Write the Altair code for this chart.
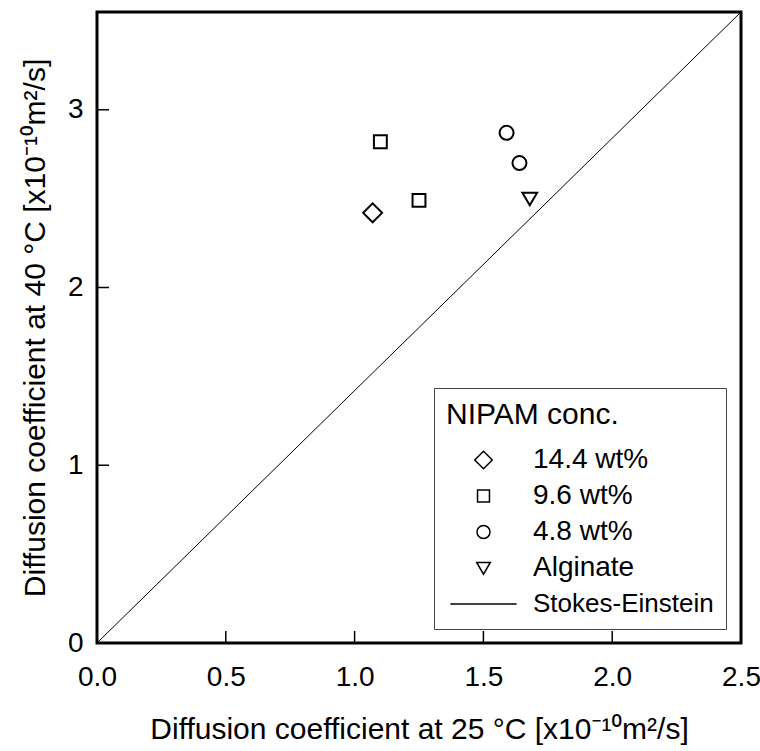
import altair as alt
import pandas as pd

# ---- data ----
series = ["14.4 wt%", "9.6 wt%", "9.6 wt%", "4.8 wt%", "4.8 wt%", "Alginate"]
d25 = [1.07, 1.10, 1.25, 1.59, 1.64, 1.68]
d40 = [2.42, 2.82, 2.49, 2.87, 2.70, 2.50]

se_x = [0.0, 2.5]
se_y = [0.0, 3.55]

x_ticks = [0.5, 1.0, 1.5, 2.0]
y_ticks = [1, 2, 3]
x_labels = [0.0, 0.5, 1.0, 1.5, 2.0, 2.5]
y_labels = [0, 1, 2, 3]
x_domain = [0, 2.5]
y_domain = [0, 3.55]

legend_order = ["14.4 wt%", "9.6 wt%", "4.8 wt%", "Alginate", "Stokes-Einstein"]
shape_paths = [
    "M0,-1.35L1.35,0L0,1.35L-1.35,0Z",
    "M-0.92,-0.92L0.92,-0.92L0.92,0.92L-0.92,0.92Z",
    "circle",
    "M-1.05,-0.85L1.05,-0.85L0,0.95Z",
    "M-5.1,0L5.1,0",
]

FONT = "Liberation Sans, Noto Sans, Arial, sans-serif"

pts = pd.DataFrame({"series": series, "x": d25, "y": d40})
se = pd.DataFrame({"x": se_x, "y": se_y})
xt = pd.DataFrame({"x": x_ticks})
yt = pd.DataFrame({"y": y_ticks})

xs = alt.Scale(domain=x_domain, nice=False, zero=False)
ys = alt.Scale(domain=y_domain, nice=False, zero=False)

xaxis = alt.Axis(
    values=x_labels, format=".1f", labelFontSize=28, labelPadding=20,
    labelColor="black", labelFont=FONT, labelFlush=False,
    ticks=False, domain=False, grid=False,
    title="Diffusion coefficient at 25 °C [x10⁻¹⁰m²/s]",
    titleFontSize=30, titleFontWeight="normal", titleFont=FONT,
    titleColor="black", titlePadding=23,
)
yaxis = alt.Axis(
    values=y_labels, format="d", labelFontSize=28, labelPadding=14,
    labelColor="black", labelFont=FONT, labelFlush=False,
    ticks=False, domain=False, grid=False,
    title="Diffusion coefficient at 40 °C [x10⁻¹⁰m²/s]",
    titleFontSize=30, titleFontWeight="normal", titleFont=FONT,
    titleColor="black", titlePadding=17,
)

leg = alt.Legend(
    title="NIPAM conc.", orient="none", legendX=337, legendY=376,
    padding=12, strokeColor="#444444", fillColor="white",
    titleFontSize=30, titleFontWeight="normal", titleFont=FONT,
    titleColor="black", titlePadding=16,
    labelFontSize={"expr": "datum.label == 'Stokes-Einstein' ? 26 : 28"},
    labelFont=FONT, labelColor="black", labelLimit=400,
    symbolSize=169, symbolStrokeWidth=1.5, symbolStrokeColor="black",
    symbolFillColor="transparent", symbolOffset=23.5, labelOffset=35.5,
    rowPadding=8,
)

line = alt.Chart(se).mark_line(color="black", strokeWidth=1).encode(
    x=alt.X("x:Q", scale=xs, axis=xaxis),
    y=alt.Y("y:Q", scale=ys, axis=yaxis),
)

xtick = alt.Chart(xt).mark_rule(color="black", strokeWidth=1.5).encode(
    x=alt.X("x:Q", scale=xs, axis=xaxis),
    y=alt.value(631), y2=alt.value(619),
)

ytick = alt.Chart(yt).mark_rule(color="black", strokeWidth=1.5).encode(
    y=alt.Y("y:Q", scale=ys, axis=yaxis),
    x=alt.value(0), x2=alt.value(12),
)

points = alt.Chart(pts).mark_point(
    filled=False, color="black", strokeWidth=2, size=196, opacity=1
).encode(
    x=alt.X("x:Q", scale=xs, axis=xaxis),
    y=alt.Y("y:Q", scale=ys, axis=yaxis),
    shape=alt.Shape("series:N", scale=alt.Scale(domain=legend_order, range=shape_paths), legend=leg),
)

chart = alt.layer(line, xtick, ytick, points).properties(
    width=644, height=631,
    autosize=alt.AutoSizeParams(type="none"),
    padding={"left": 97, "top": 12, "right": 19, "bottom": 108},
    background="white",
).configure(font=FONT).configure_view(stroke="black", strokeWidth=3)

chart.save("out.html", embed_options={"renderer": "svg", "actions": False})
